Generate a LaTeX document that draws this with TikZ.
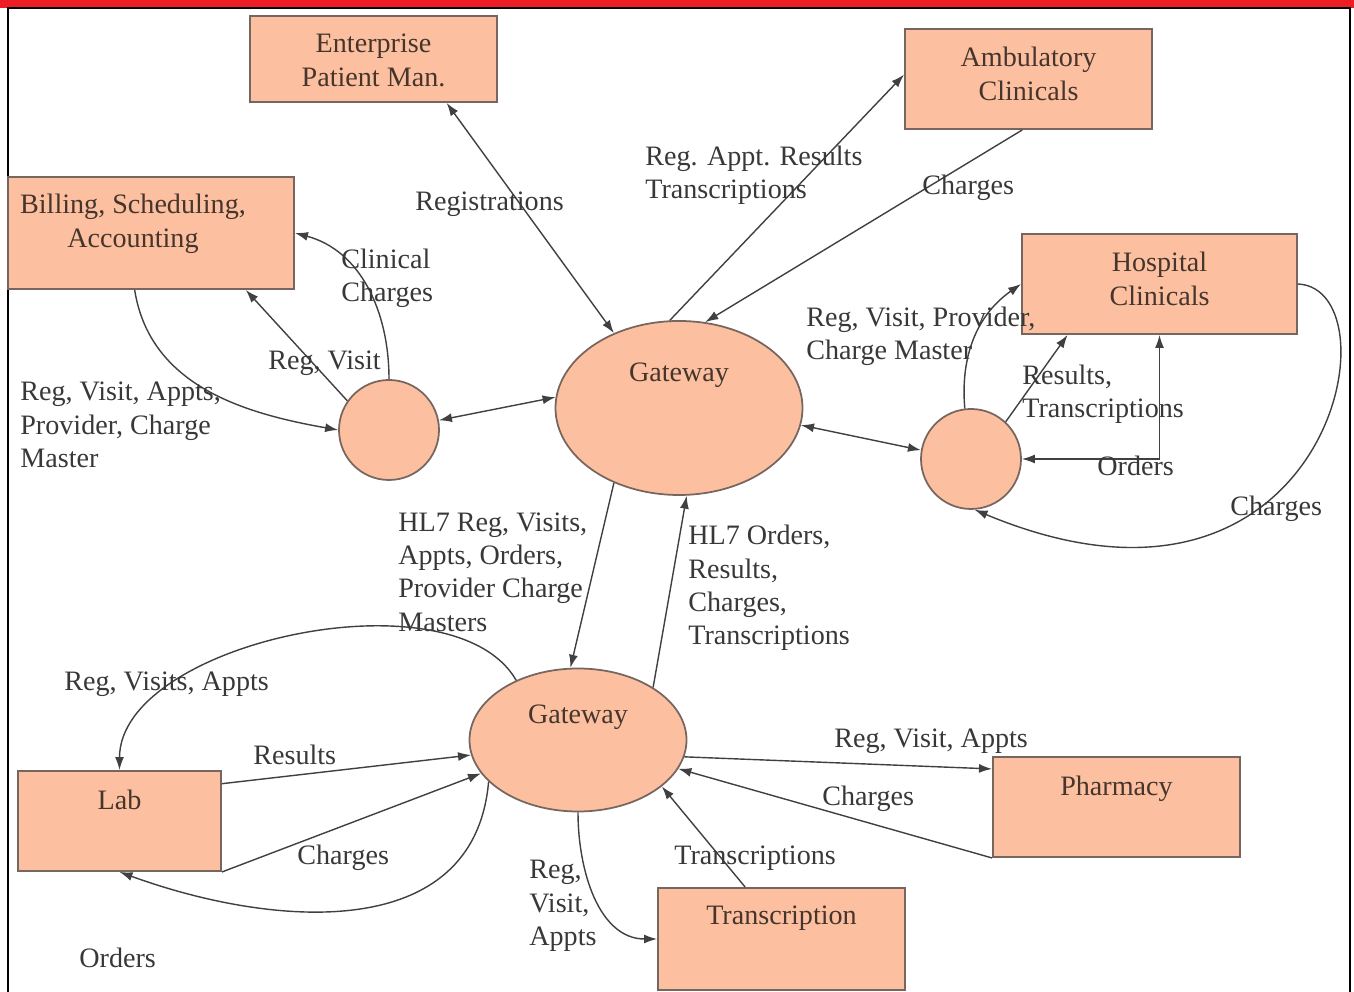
\documentclass[tikz,border=0pt]{standalone}
\usepackage{fontspec}
\setmainfont{Liberation Serif}
\usetikzlibrary{positioning,shapes.geometric,arrows.meta,calc}
\definecolor{peach}{HTML}{FCC0A0}
\definecolor{boxline}{HTML}{76665F}
\definecolor{inkbrown}{HTML}{45352C}
\definecolor{inkgray}{HTML}{383838}
\definecolor{wirecol}{HTML}{404040}
\definecolor{bannerred}{HTML}{EE1C25}
\newcommand{\boxfont}{\fontsize{16}{19}\selectfont}
\tikzset{
  sysbox/.style = {
    rectangle, draw=boxline, fill=peach, line width=1.1pt,
    minimum width=4.94cm, minimum height=2cm, inner sep=0pt
  },
  boxtext/.style  = {font=\boxfont, text=inkbrown, align=center, inner sep=0pt},
  gateway/.style  = {ellipse, draw=boxline, fill=peach, line width=1pt, inner sep=0pt},
  relay/.style    = {circle, draw=boxline, fill=peach, line width=1pt,
                     minimum size=2cm, inner sep=0pt},
  flow/.style     = {-{Latex[length=2.6mm,width=1.8mm]}, draw=wirecol, line width=0.8pt},
  dflow/.style    = {{Latex[length=2.6mm,width=1.8mm]}-{Latex[length=2.6mm,width=1.8mm]},
                     draw=wirecol, line width=0.8pt},
  flowlabel/.style = {font=\boxfont, text=inkgray, align=left, anchor=west, inner sep=0pt}
}

\begin{document}
\begin{tikzpicture}[x=1cm,y=1cm]
\useasboundingbox (0,0) rectangle (27.08,19.84);

% --- page frame ------------------------------------------------------------
\fill[bannerred] (0,19.68) rectangle (27.08,19.84);
\draw[line width=1.2pt] (0.16,0) -- (0.16,19.68) -- (27.0,19.68) -- (27.0,0);

% --- the systems -----------------------------------------------------------
\node[sysbox, minimum height=1.72cm] (ent) at (7.47,18.66)
     [label={[boxtext, anchor=north, yshift=-0.38cm]north:{Enterprise\\Patient Man.}}] {};
\node[sysbox] (amb) at (20.57,18.26)
     [label={[boxtext, anchor=north, yshift=-0.38cm]north:{Ambulatory\\Clinicals}}] {};
\node[sysbox, minimum width=5.72cm, minimum height=2.24cm] (bill) at (3.02,15.18)
     [label={[boxtext, anchor=north, yshift=-0.36cm, xshift=-0.36cm]north:{Billing, Scheduling,\\Accounting}}] {};
\node[sysbox, minimum width=5.5cm] (hosp) at (23.19,14.16)
     [label={[boxtext, anchor=north, yshift=-0.38cm]north:{Hospital\\Clinicals}}] {};
\node[sysbox, minimum width=4.06cm] (lab) at (2.39,3.42)
     [label={[boxtext, anchor=north, yshift=-0.4cm]north:Lab}] {};
\node[sysbox] (pharm) at (22.33,3.70)
     [label={[boxtext, anchor=north, yshift=-0.4cm]north:Pharmacy}] {};
\node[sysbox, minimum height=2.04cm] (trans) at (15.63,1.06)
     [label={[boxtext, anchor=north, yshift=-0.38cm]north:Transcription}] {};

% --- gateways and the two relay points --------------------------------------
\node[gateway, minimum width=4.94cm, minimum height=3.48cm] (gwtop) at (13.58,11.68)
     [label={[boxtext, yshift=0.66cm]center:Gateway}] {};
\node[gateway, minimum width=4.34cm, minimum height=2.86cm] (gwbot) at (11.56,5.04)
     [label={[boxtext, yshift=0.46cm]center:Gateway}] {};
\node[relay] (lcirc) at (7.78,11.24) {};
\node[relay] (rcirc) at (19.42,10.66) {};

% --- upper gateway ---------------------------------------------------------
\draw[dflow] (ent.329) -- (gwtop.131);
\draw[flow] (gwtop.96) -- (amb.178);
\draw[flow] (amb.263) -- (gwtop.73);
\draw[dflow] (gwtop.175) -- (lcirc.11);
\draw[dflow] (gwtop.352) -- (rcirc.170);

\node[flowlabel] (lregs)  at (8.30,15.76) {Registrations};
\node[flowlabel] (lamb)   at (12.9,16.34) {Reg. Appt. Results\\Transcriptions};
\node[flowlabel] (lambch) at (18.44,16.08) {Charges};

% --- billing side ----------------------------------------------------------
\draw[flow] (lcirc.145) -- (bill.329.5);
\draw[flow] (lcirc.90) to[out=90, in=-15] (bill.east);
\draw[flow] (bill.254) to[out=-81, in=170] (lcirc.west);

\node[flowlabel] (lclin)  at (6.82,14.28) {Clinical\\Charges};
\node[flowlabel] (lrv)    at (5.36,12.58) {Reg, Visit};
\node[flowlabel] (lbill)  at (0.40,11.34) {Reg, Visit, Appts,\\Provider, Charge\\Master};

% --- hospital side ---------------------------------------------------------
\draw[flow] (rcirc.97) to[out=95, in=215] (hosp.west);
\draw[flow] (rcirc.47) -- (hosp.209);
\draw[dflow] (rcirc.east) -| (hosp.south);
\draw[flow] (hosp.east) .. controls +(2.04,-0.1) and +(7.1,-2.96) .. (rcirc.274);

\node[flowlabel] (lhreg)  at (16.12,13.12) {Reg, Visit, Provider,\\Charge Master};
\node[flowlabel] (lhres)  at (20.44,11.96) {Results,\\Transcriptions};
\node[flowlabel] (lhord)  at (21.94,10.52) {Orders};
\node[flowlabel] (lhch)   at (24.6,9.66) {Charges};

% --- between the gateways --------------------------------------------------
\draw[flow] (gwtop.229) -- (gwbot.96);
\draw[flow] (gwbot.35) -- (gwtop.275);

\node[flowlabel] (ldown)  at (7.96,8.40) {HL7 Reg, Visits,\\Appts, Orders,\\Provider Charge\\Masters};
\node[flowlabel] (lup)    at (13.76,8.08) {HL7 Orders,\\Results,\\Charges,\\Transcriptions};

% --- lower gateway ---------------------------------------------------------
\draw[flow] (gwbot.136) to[out=120, in=90, looseness=0.8] (lab.north);
\draw[flow] (lab.20) -- (gwbot.188.6);
\draw[flow] (lab.south east) -- (gwbot.199);
\draw[flow] (gwbot.205) to[out=-95, in=-20, looseness=1.1] (lab.south);
\draw[flow] (gwbot.351) -- (pharm.163.7);
\draw[flow] (pharm.south west) -- (gwbot.344);
\draw[flow] (trans.125.6) -- (gwbot.331);
\draw[flow] (gwbot.270) to[out=-90, in=180] (trans.west);

\node[flowlabel] (llreg)  at (1.28,6.16) {Reg, Visits, Appts};
\node[flowlabel] (llres)  at (5.06,4.74) {Results};
\node[flowlabel] (llch)   at (5.94,2.68) {Charges};
\node[flowlabel] (llord)  at (1.58,0.68) {Orders};
\node[flowlabel] (lpreg)  at (16.68,5.02) {Reg, Visit, Appts};
\node[flowlabel] (lpch)   at (16.44,3.86) {Charges};
\node[flowlabel] (ltr)    at (13.48,2.68) {Transcriptions};
\node[flowlabel] (ltreg)  at (10.58,1.72) {Reg,\\Visit,\\Appts};

\end{tikzpicture}
\end{document}
